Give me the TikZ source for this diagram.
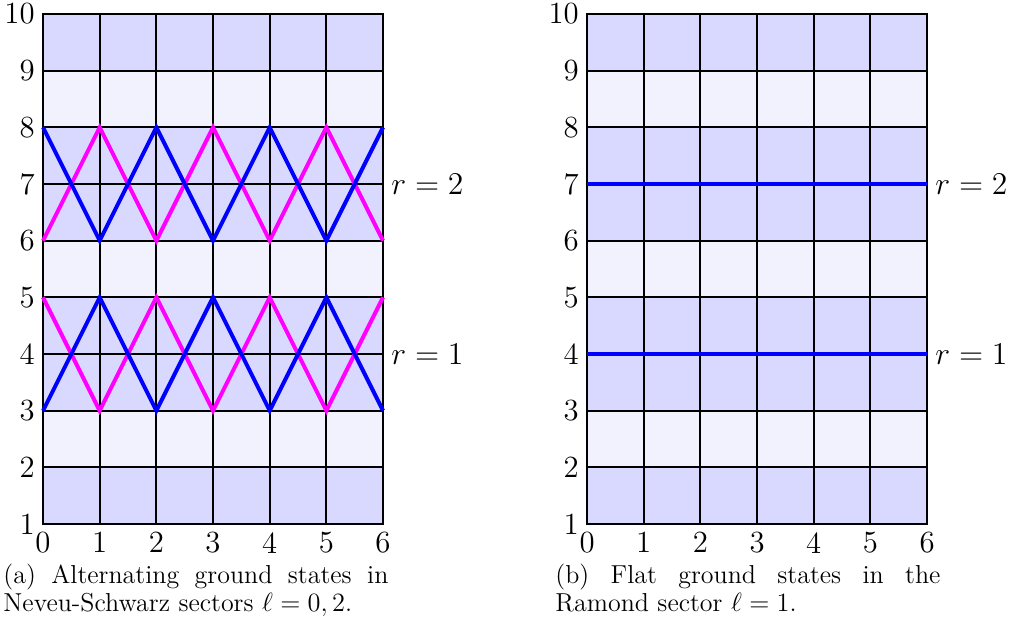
\documentclass[tikz,border=0pt]{standalone}
\usetikzlibrary{positioning}
\definecolor{bandfill}{RGB}{217,217,255}
\definecolor{gapfill}{RGB}{242,242,255}
\definecolor{zigblue}{RGB}{0,0,255}
\definecolor{zigpink}{RGB}{255,0,255}
\tikzset{
  gsband/.style = {fill=bandfill},
  gsgap/.style  = {fill=gapfill},
  gsgrid/.style = {draw=black, line width=0.9pt},
  gsblue/.style = {draw=zigblue, line width=1.8pt},
  gspink/.style = {draw=zigpink, line width=1.8pt},
  gstick/.style = {font=\fontsize{14}{16}\selectfont, inner sep=3.6pt},
  gsr/.style    = {font=\fontsize{14}{16}\selectfont, anchor=west, inner sep=3.6pt},
  gscap/.style  = {anchor=north west, inner sep=0pt, text width=175pt, align=justify,
                   font=\fontsize{11.8}{12.3}\selectfont},
}

\begin{document}
\begin{tikzpicture}[x=25.76pt, y=25.76pt]
\useasboundingbox (-0.759,-0.694) rectangle (17.046,10.247);

% two panels: rows, grid and axis numbers
\foreach \p/\ox in {a/0, b/9.6}{
  \foreach \lo/\hi in {1/2,3/5,6/8,9/10} \fill[gsband] (\ox,\lo) rectangle (\ox+6,\hi);
  \foreach \lo/\hi in {2/3,5/6,8/9} \fill[gsgap] (\ox,\lo) rectangle (\ox+6,\hi);
  \foreach \i in {0,...,6} \draw[gsgrid] (\ox+\i,1) -- (\ox+\i,10);
  \foreach \j in {1,...,10} \draw[gsgrid] (\ox,\j) -- (\ox+6,\j);
  \draw[gsgrid] (\ox,1) rectangle (\ox+6,10);
  \foreach \i in {0,...,6} \node[gstick, below] (\p x\i) at (\ox+\i,1) {\i};
  \foreach \j in {1,...,10} \node[gstick, left] (\p y\j) at (\ox,\j) {\j};
}

% (a) alternating ground states
\draw[gspink] (0,6) -- (1,8) -- (2,6) -- (3,8) -- (4,6) -- (5,8) -- (6,6);
\draw[gspink] (0,5) -- (1,3) -- (2,5) -- (3,3) -- (4,5) -- (5,3) -- (6,5);
\draw[gsblue] (0,8) -- (1,6) -- (2,8) -- (3,6) -- (4,8) -- (5,6) -- (6,8);
\draw[gsblue] (0,3) -- (1,5) -- (2,3) -- (3,5) -- (4,3) -- (5,5) -- (6,3);
\node[gsr] (ar2) at (6,7) {$r=2$};
\node[gsr] (ar1) at (6,4) {$r=1$};

% (b) flat ground states
\draw[gsblue] (9.6,7) -- (15.6,7);
\draw[gsblue] (9.6,4) -- (15.6,4);
\node[gsr] (br2) at (15.6,7) {$r=2$};
\node[gsr] (br1) at (15.6,4) {$r=1$};

\node[gscap] (acap) at (-0.706,0.294)
  {(a) Alternating ground states in\linebreak Neveu-Schwarz sectors $\ell=0,2$.};
\node[gscap] (bcap) at (9.035,0.294)
  {(b) Flat ground states in the\linebreak Ramond sector $\ell=1$.};
\end{tikzpicture}
\end{document}
